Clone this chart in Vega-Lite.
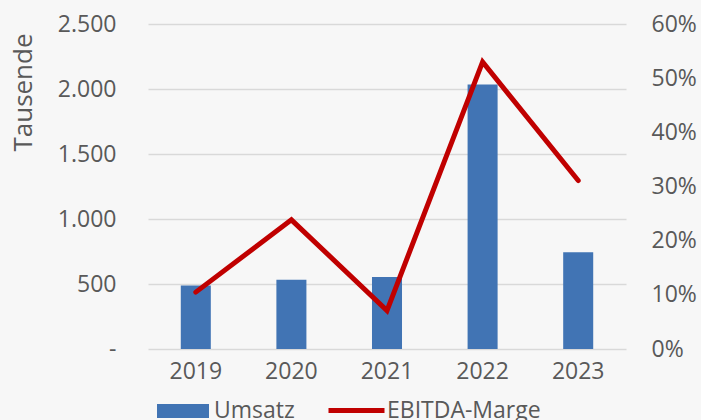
{
  "$schema": "https://vega.github.io/schema/vega-lite/v6.json",
  "width": 478,
  "height": 325,
  "autosize": {"type": "none"},
  "padding": {"left": 148, "top": 24, "right": 75, "bottom": 71},
  "background": "#f7f7f7",
  "config": {
    "view": {"stroke": null},
    "font": "Open Sans",
    "axis": {"labelFont": "Open Sans", "titleFont": "Open Sans", "labelColor": "#595959", "titleColor": "#595959", "labelFontSize": 23, "titleFontSize": 26, "titleFontWeight": "normal"},
    "legend": {"labelFont": "Open Sans", "labelColor": "#595959", "labelFontSize": 23}
  },
  "data": {
    "values": [
      {"Jahr": "2019", "Umsatz": 489, "Marge": 0.105},
      {"Jahr": "2020", "Umsatz": 532, "Marge": 0.2385},
      {"Jahr": "2021", "Umsatz": 553, "Marge": 0.071},
      {"Jahr": "2022", "Umsatz": 2034, "Marge": 0.53},
      {"Jahr": "2023", "Umsatz": 745, "Marge": 0.311}
    ]
  },
  "encoding": {
    "x": {
      "field": "Jahr",
      "type": "ordinal",
      "scale": {"paddingInner": 0.686, "paddingOuter": 0.343},
      "axis": {"title": null, "labelAngle": 0, "domain": false, "ticks": false, "labelPadding": 11}
    }
  },
  "layer": [
    {
      "mark": {"type": "bar"},
      "encoding": {
        "y": {
          "field": "Umsatz",
          "type": "quantitative",
          "scale": {"domain": [0, 2500], "nice": false},
          "axis": {
            "title": "Tausende",
            "titleAngle": -90,
            "titleAlign": "center",
            "titleBaseline": "middle",
            "titleX": -125,
            "titleY": 68,
            "values": [0, 500, 1000, 1500, 2000, 2500],
            "labelExpr": "datum.value == 0 ? '-' : replace(format(datum.value, ','), ',', '.')",
            "domain": false,
            "ticks": false,
            "labelPadding": 32,
            "grid": true,
            "gridColor": "#d9d9d9",
            "gridWidth": 1.3
          }
        },
        "fill": {
          "datum": "Umsatz",
          "type": "nominal",
          "scale": {"range": ["#4174b4"]},
          "legend": {
            "orient": "none",
            "legendX": 9,
            "legendY": 361,
            "title": null,
            "symbolType": "M-1,-0.27H1V0.27H-1Z",
            "symbolSize": 2704,
            "symbolStrokeWidth": 0,
            "labelOffset": 5
          }
        }
      }
    },
    {
      "mark": {"type": "line", "strokeWidth": 5, "strokeCap": "round", "strokeJoin": "miter"},
      "encoding": {
        "y": {
          "field": "Marge",
          "type": "quantitative",
          "scale": {"domain": [0, 0.6], "nice": false},
          "axis": {
            "orient": "right",
            "title": null,
            "values": [0, 0.1, 0.2, 0.3, 0.4, 0.5, 0.6],
            "format": ".0%",
            "domain": false,
            "ticks": false,
            "grid": false,
            "labelPadding": 25
          }
        },
        "stroke": {
          "datum": "EBITDA-Marge",
          "type": "nominal",
          "scale": {"range": ["#c00000"]},
          "legend": {
            "orient": "none",
            "legendX": 178,
            "legendY": 356,
            "title": null,
            "symbolType": "stroke",
            "symbolSize": 3136,
            "symbolStrokeWidth": 5,
            "labelOffset": 0
          }
        }
      }
    }
  ],
  "resolve": {"scale": {"y": "independent"}}
}
